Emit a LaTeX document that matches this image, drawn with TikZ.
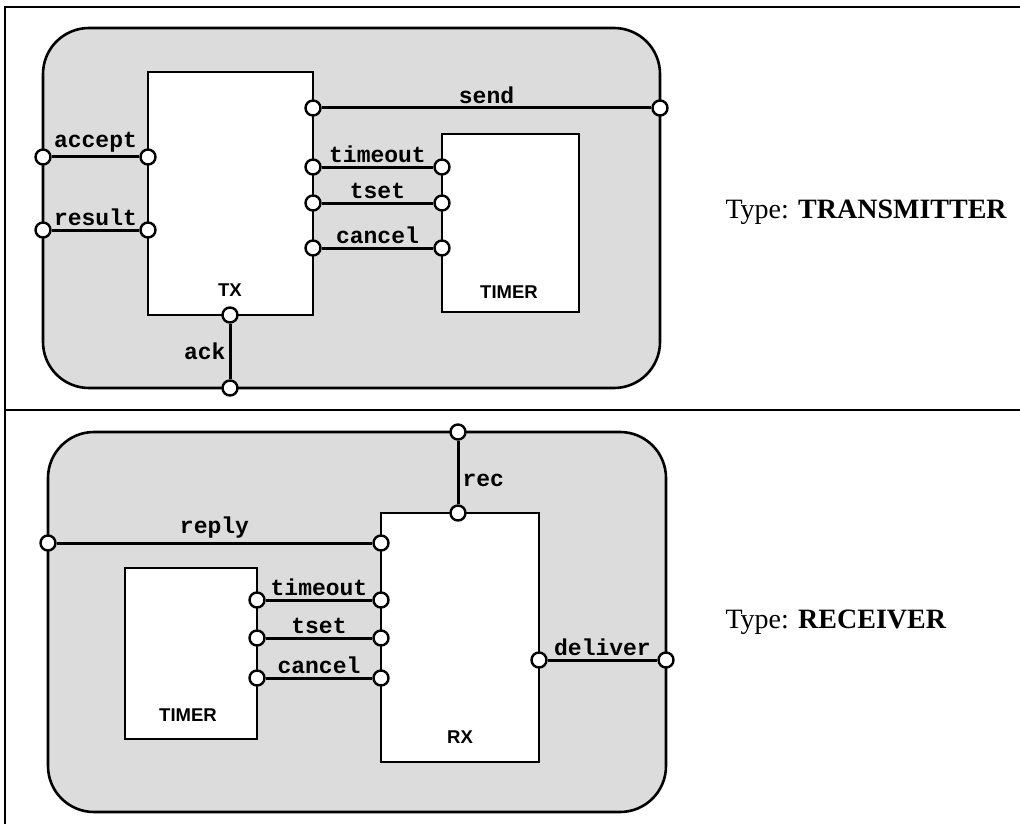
\documentclass[tikz,border=0pt]{standalone}
\usepackage{fontspec}
\setmainfont{Liberation Serif}
\setsansfont{Liberation Sans}
\setmonofont{Liberation Mono}
\usetikzlibrary{positioning}

\definecolor{capsule}{RGB}{220,220,220}

\begin{document}
\begin{tikzpicture}[x=1pt, y=-1pt,
  capsule/.style={draw, line width=2.6pt, fill=capsule, rounded corners=46pt},
  unit/.style={draw, line width=2.4pt, fill=white, inner sep=0pt},
  port/.style={circle, draw, line width=2.4pt, fill=white, inner sep=0pt, minimum size=15pt},
  wire/.style={line width=3pt},
  sig/.style={font=\ttfamily\bfseries\fontsize{23}{23}\selectfont, inner sep=3pt},
  tag/.style={font=\sffamily\bfseries\fontsize{18.5}{18.5}\selectfont},
  kind/.style={font=\fontsize{28}{28}\selectfont, anchor=west}]

  \useasboundingbox (0,0) rectangle (1020,824);

  % frame
  \draw[line width=2pt] (1020,7) -- (5,7) -- (5,824);
  \draw[line width=2pt] (5,410) -- (1020,410);

  % transmitter
  \draw[capsule] (43,28) rectangle (660,388);
  \draw[unit] (148,72) rectangle (313,315);
  \draw[unit] (442,134) rectangle (579,312);
  \node[tag] (tx) at (230,290) {TX};
  \node[tag] (txtimer) at (509,292) {TIMER};

  \node[port] (acceptOut) at (43,157) {};
  \node[port] (acceptIn) at (148,157) {};
  \node[port] (resultOut) at (43,230) {};
  \node[port] (resultIn) at (148,230) {};
  \node[port] (sendIn) at (313,108) {};
  \node[port] (sendOut) at (660,108) {};
  \node[port] (txTimeout) at (313,167) {};
  \node[port] (tmTimeout) at (442,167) {};
  \node[port] (txTset) at (313,203) {};
  \node[port] (tmTset) at (442,203) {};
  \node[port] (txCancel) at (313,248) {};
  \node[port] (tmCancel) at (442,248) {};
  \node[port] (ackIn) at (230,315) {};
  \node[port] (ackOut) at (230,388) {};

  \draw[wire] (acceptOut) -- node[sig, above] {accept} (acceptIn);
  \draw[wire] (resultOut) -- node[sig, above] {result} (resultIn);
  \draw[wire] (sendIn) -- node[sig, above] {send} (sendOut);
  \draw[wire] (txTimeout) -- node[sig, above] {timeout} (tmTimeout);
  \draw[wire] (txTset) -- node[sig, above] {tset} (tmTset);
  \draw[wire] (txCancel) -- node[sig, above] {cancel} (tmCancel);
  \draw[wire] (ackIn) -- node[sig, left] {ack} (ackOut);

  \node[kind] (txtype) at (722,212) {Type: \textbf{TRANSMITTER}};

  % receiver
  \draw[capsule] (48,432) rectangle (666,812);
  \draw[unit] (381,513) rectangle (539,762);
  \draw[unit] (125,568) rectangle (257,739);
  \node[tag] (rx) at (460,737) {RX};
  \node[tag] (rxtimer) at (188,715) {TIMER};

  \node[port] (recOut) at (458,432) {};
  \node[port] (recIn) at (458,513) {};
  \node[port] (replyOut) at (48,543) {};
  \node[port] (replyIn) at (381,543) {};
  \node[port] (tmTimeoutR) at (257,600) {};
  \node[port] (rxTimeout) at (381,600) {};
  \node[port] (tmTsetR) at (257,638) {};
  \node[port] (rxTset) at (381,638) {};
  \node[port] (tmCancelR) at (257,678) {};
  \node[port] (rxCancel) at (381,678) {};
  \node[port] (deliverIn) at (539,660) {};
  \node[port] (deliverOut) at (666,660) {};

  \draw[wire] (recOut) -- node[sig, right, pos=0.62] {rec} (recIn);
  \draw[wire] (replyOut) -- node[sig, above] {reply} (replyIn);
  \draw[wire] (tmTimeoutR) -- node[sig, above] {timeout} (rxTimeout);
  \draw[wire] (tmTsetR) -- node[sig, above] {tset} (rxTset);
  \draw[wire] (tmCancelR) -- node[sig, above] {cancel} (rxCancel);
  \draw[wire] (deliverIn) -- node[sig, above] {deliver} (deliverOut);

  \node[kind] (rxtype) at (722,622) {Type: \textbf{RECEIVER}};

\end{tikzpicture}
\end{document}
